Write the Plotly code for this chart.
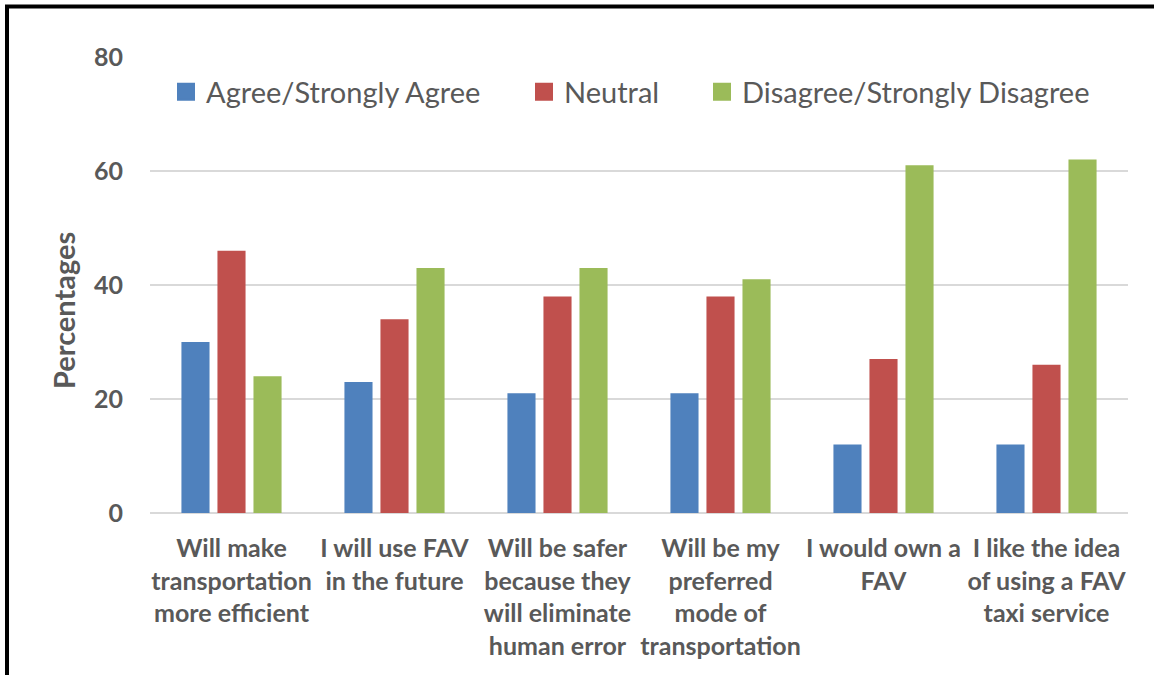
import plotly.graph_objects as go

categories = [
    "Will make<br>transportation<br>more efficient",
    "I will use FAV<br>in the future",
    "Will be safer<br>because they<br>will eliminate<br>human error",
    "Will be my<br>preferred<br>mode of<br>transportation",
    "I would own a<br>FAV",
    "I like the idea<br>of using a FAV<br>taxi service",
]
agree = [30, 23, 21, 21, 12, 12]
neutral = [46, 34, 38, 38, 27, 26]
disagree = [24, 43, 43, 41, 61, 62]
series_names = ["Agree/Strongly Agree", "Neutral", "Disagree/Strongly Disagree"]
colors = ["#4F81BD", "#C0504D", "#9BBB59"]
y_ticks = [0, 20, 40, 60, 80]
y_title = "Percentages"

W, H = 1154, 675
L, R, T, B = 150, 26, 57, 162
pw, ph = W - L - R, H - T - B
FONT = "Lato"
GREY = "#595959"

def px_x(p):
    return (p - L) / pw

def px_y(p):
    return (H - B - p) / ph

legend_ids = ["legend", "legend2", "legend3"]
legend_left = [166, 524, 702]

fig = go.Figure()
for name, vals, c, lid in zip(series_names, [agree, neutral, disagree], colors, legend_ids):
    fig.add_trace(go.Bar(name=name, x=categories, y=vals, showlegend=False,
                         marker=dict(color=c, line=dict(width=0))))
    # legend swatch
    fig.add_trace(go.Scatter(name=name, x=[None], y=[None], mode="markers", legend=lid,
                             marker=dict(symbol="square", size=16, color=c, line=dict(color=c, width=2))))

leg_common = dict(orientation="h", yanchor="middle", xanchor="left", itemsizing="trace",
                  font=dict(size=29, family=FONT, color=GREY), bgcolor="rgba(0,0,0,0)")
layout_legends = {}
for lid, lx in zip(legend_ids, legend_left):
    layout_legends[lid] = dict(x=px_x(lx), y=px_y(92), **leg_common)

fig.update_layout(
    width=W, height=H,
    margin=dict(l=L, r=R, t=T, b=B, autoexpand=False),
    paper_bgcolor="white", plot_bgcolor="white",
    barmode="group", bargap=0.337, bargroupgap=0.22,
    font=dict(family=FONT, color=GREY),
    xaxis=dict(showgrid=False, showline=False, ticks="", ticklabelstandoff=18,
               tickfont=dict(size=25, family=FONT, color=GREY, weight="bold")),
    yaxis=dict(
        range=[0, 80], tickvals=y_ticks, showgrid=True, gridcolor="#D9D9D9", gridwidth=1.5,
        zeroline=True, zerolinecolor="#D9D9D9", zerolinewidth=1.5, ticks="",
        tickfont=dict(size=25, family=FONT, color=GREY, weight="bold"), ticklabelstandoff=26,
    ),
    annotations=[
        dict(text=y_title, textangle=-90, xref="paper", yref="paper", x=px_x(63), y=px_y(311),
             xanchor="center", yanchor="middle", showarrow=False,
             font=dict(size=29, family=FONT, color=GREY, weight="bold")),
    ],
    shapes=[
        dict(type="line", xref="paper", yref="paper", x0=px_x(7), x1=px_x(7), y0=px_y(5), y1=px_y(H + 5),
             line=dict(color="black", width=4)),
        dict(type="line", xref="paper", yref="paper", x0=px_x(5), x1=px_x(W + 5), y0=px_y(6.5), y1=px_y(6.5),
             line=dict(color="black", width=4)),
    ],
    **layout_legends,
)
fig.write_html("out.html", config={"displayModeBar": False},
               post_script="document.body.style.margin='0';document.body.style.overflow='hidden';")
